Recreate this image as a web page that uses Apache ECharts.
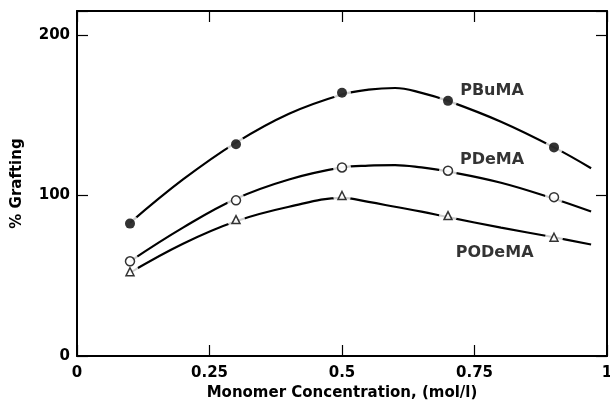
<!DOCTYPE html>
<html>
<head>
<meta charset="utf-8">
<script src="https://cdn.jsdelivr.net/npm/echarts@6/dist/echarts.min.js"></script>
<style>
  html, body { margin: 0; padding: 0; background: #fff; }
  #chart { width: 610px; height: 400px; }
</style>
</head>
<body>
<div id="chart"></div>
<script>
// measured points
var concX = [0.1, 0.3, 0.5, 0.7, 0.9];
var pbumaPts = [82.5, 132, 164, 159, 130];
var pdemaPts = [59, 97, 117.5, 115.5, 99];
var podemaPts = [52.5, 85, 100, 87.5, 74];

// fitted curves
var curveX = [0.1, 0.2, 0.3, 0.4, 0.5, 0.55, 0.6, 0.65, 0.7, 0.8, 0.9, 0.97];
var pbumaCurve = [83, 110, 133, 151, 163, 166, 167, 164, 159, 146, 130, 117];
var pdemaCurve = [59, 80, 98, 110, 117.5, 118.7, 119, 117.5, 115, 108, 98, 90];
var podemaCurve = [52, 70, 84, 93, 98.5, 96, 93, 90, 86.5, 80, 74, 69.5];

var seriesNames = ['PBuMA', 'PDeMA', 'PODeMA'];
var xTicks = [0, 0.25, 0.5, 0.75, 1];
var yTicks = [0, 100, 200];

var font = 'DejaVu Sans';

function pairs(xs, ys) {
  var out = [];
  for (var i = 0; i < xs.length; i++) out.push([xs[i], ys[i]]);
  return out;
}

var chart = echarts.init(document.getElementById('chart'));

var curves = [pbumaCurve, pdemaCurve, podemaCurve];
var points = [pbumaPts, pdemaPts, podemaPts];
var symSize = [10, 9, 8];
var labelAt = [[0.783, 165], [0.783, 122], [0.788, 64]];

var series = [];
for (var i = 0; i < 3; i++) {
  series.push({
    name: seriesNames[i],
    type: 'line',
    smooth: 0.4,
    symbol: 'none',
    data: pairs(curveX, curves[i]),
    lineStyle: { color: '#000', width: 2.2 },
    z: 2
  });
  // white halo to break the line round each marker
  series.push({
    type: 'scatter',
    symbol: 'circle',
    symbolSize: 18,
    data: pairs(concX, points[i]),
    itemStyle: { color: '#fff' },
    silent: true,
    z: 3
  });
  series.push({
    type: 'scatter',
    symbol: i === 2 ? 'triangle' : 'circle',
    symbolSize: symSize[i],
    data: pairs(concX, points[i]),
    itemStyle: i === 0 ? { color: '#000' } : { color: '#fff', borderColor: '#000', borderWidth: 1.5 },
    z: 4
  });
  series.push({
    type: 'scatter',
    symbolSize: 0,
    data: [labelAt[i]],
    label: {
      show: true,
      position: 'inside',
      formatter: seriesNames[i],
      color: '#000',
      fontFamily: font,
      fontWeight: 'bold',
      fontSize: 16
    },
    silent: true,
    z: 5
  });
}

var axisLine = { show: true, onZero: false, lineStyle: { color: '#000', width: 2 } };
var tickStyle = { show: true, inside: true, length: 11, lineStyle: { color: '#000', width: 1.2 } };
var labelStyle = { color: '#000', fontFamily: font, fontWeight: 'bold', fontSize: 15 };

chart.setOption({
  animation: false,
  backgroundColor: '#fff',
  grid: { left: 77, right: 3, top: 11, bottom: 44, outerBoundsMode: 'none', containLabel: false },
  xAxis: [{
    type: 'value', min: 0, max: 1, interval: 0.25, position: 'bottom',
    axisLine: axisLine, axisTick: tickStyle, splitLine: { show: false },
    axisLabel: Object.assign({ margin: 10, formatter: function (v) { return xTicks.indexOf(v) >= 0 ? String(v) : ''; } }, labelStyle),
    name: 'Monomer Concentration, (mol/l)',
    nameLocation: 'middle', nameGap: 28,
    nameTextStyle: { color: '#000', fontFamily: font, fontWeight: 'bold', fontSize: 15 }
  }, {
    type: 'value', min: 0, max: 1, interval: 0.25, position: 'top',
    axisLine: axisLine, axisTick: tickStyle, splitLine: { show: false },
    axisLabel: { show: false }
  }],
  yAxis: [{
    type: 'value', min: 0, max: 215, interval: 100, position: 'left',
    axisLine: axisLine, axisTick: tickStyle, splitLine: { show: false },
    axisLabel: Object.assign({ margin: 7, formatter: function (v) { return yTicks.indexOf(v) >= 0 ? String(v) : ''; } }, labelStyle),
    name: '% Grafting',
    nameLocation: 'middle', nameGap: 52,
    nameTextStyle: { color: '#000', fontFamily: font, fontWeight: 'bold', fontSize: 15 }
  }, {
    type: 'value', min: 0, max: 215, interval: 100, position: 'right',
    axisLine: axisLine, axisTick: tickStyle, splitLine: { show: false },
    axisLabel: { show: false }
  }],
  series: series
});
</script>
</body>
</html>
